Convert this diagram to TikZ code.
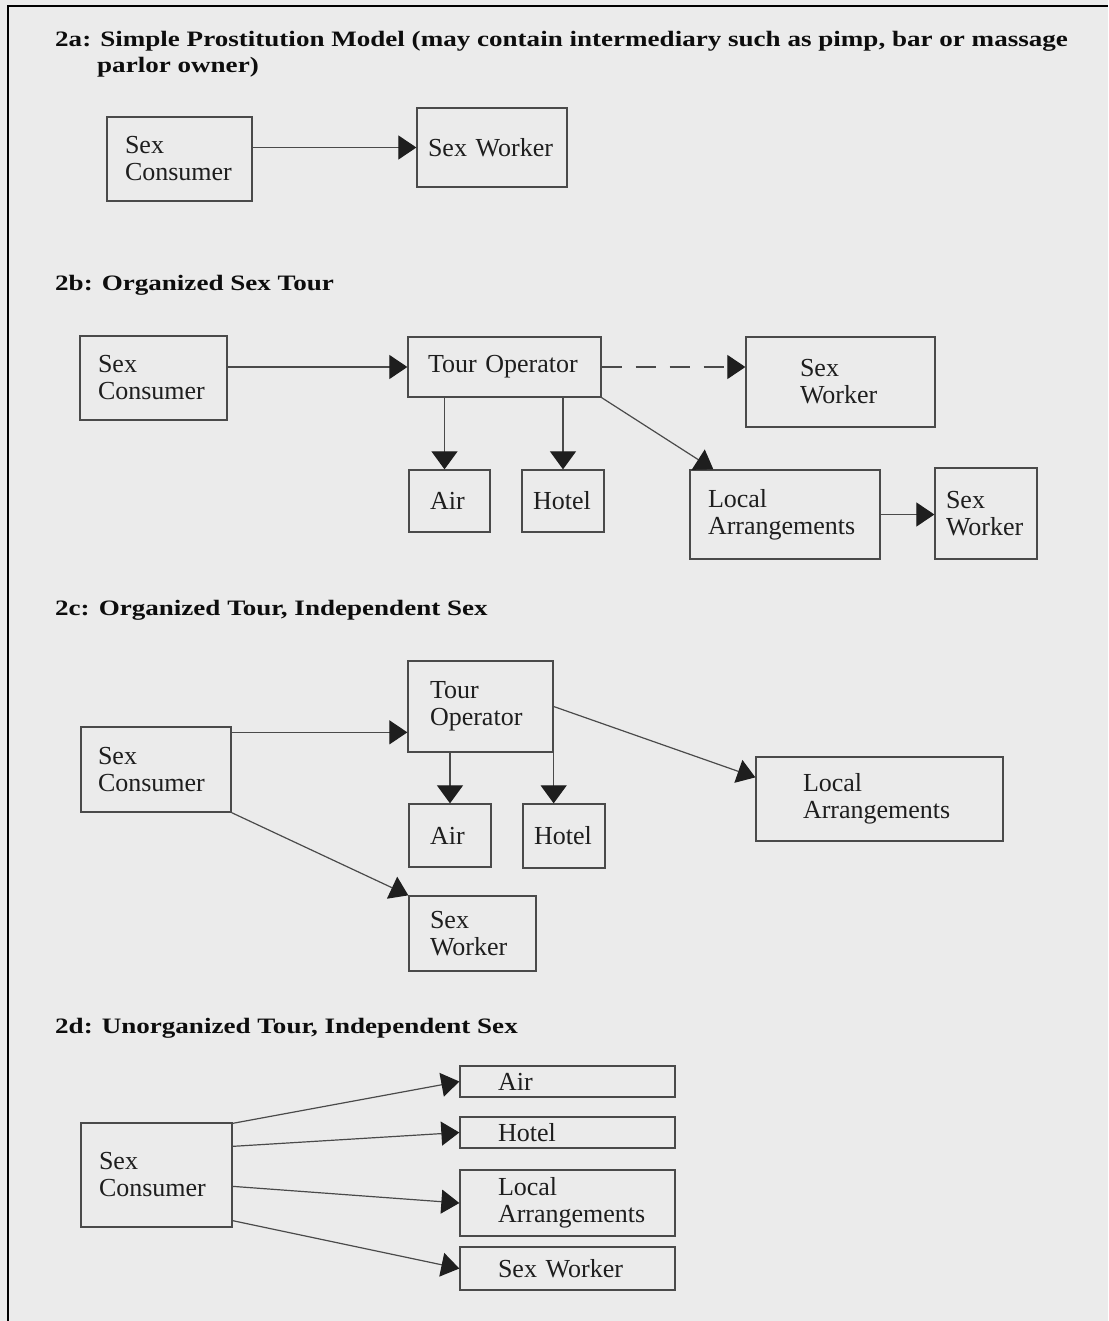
\documentclass[tikz,border=0pt]{standalone}
\usepackage{fontspec}
\setmainfont{Liberation Serif}
\newfontfamily\titlefont[FakeStretch=1.23]{Liberation Serif}
\usetikzlibrary{arrows.meta}
\definecolor{bg}{HTML}{EBEBEB}
\definecolor{ink}{HTML}{1E1E1E}
\definecolor{rule}{HTML}{4A4A4A}
\begin{document}
\begin{tikzpicture}[x=1pt,y=-1pt,
  box/.style n args={4}{draw=rule, line width=1.3pt, inner ysep=0pt, align=left,
     text=ink, font=\fontsize{26pt}{27pt}\selectfont,
     minimum width=#1pt, minimum height=#2pt, inner xsep=#3pt, text width=#4pt},
  ttl/.style={inner sep=0pt, anchor=base west, text=black!95,
     font=\titlefont\bfseries\fontsize{22pt}{26pt}\selectfont},
  arr/.style={draw=rule, line width=1.2pt, -{Triangle[length=18pt,width=24pt,color=ink]}},
  arrv/.style={draw=rule, line width=1.2pt, -{Triangle[length=18pt,width=26pt,color=ink]}},
  dsh/.style={dash pattern=on 20pt off 14pt}]
\fill[bg] (0,0) rectangle (1108,1321);
\useasboundingbox (0,0) rectangle (1108,1321);
\draw[line width=2.2pt, black] (8,1321) -- (8,6) -- (1108,6);

% ---------- 2a
\node[ttl] (T2a) at (55,47) {2a: Simple Prostitution Model (may contain intermediary such as pimp, bar or massage};
\node[ttl] (T2a2) at (97,73) {parlor owner)};
\node[box={145}{84}{18}{109}] (A1) at (179.5,159) {Sex\\Consumer};
\node[box={150}{79}{11}{128}] (A2) at (492,147.5) {Sex Worker};
\draw[arr] (A1.east |- A2.west) -- (A2.west);

% ---------- 2b
\node[ttl] (T2b) at (55,290.5) {2b: Organized Sex Tour};
\node[box={147}{84}{18}{111}] (B1) at (153.5,378) {Sex\\Consumer};
\node[box={193}{60}{20}{153}] (B2) at (504.5,367) {Tour Operator};
\node[box={189}{90}{54}{81}] (B3) at (840.5,382) {Sex\\Worker};
\node[box={81}{62}{21}{39}] (B4) at (449.5,501) {Air};
\node[box={82}{62}{11}{60}] (B5) at (563,501) {Hotel};
\node[box={190}{89}{18}{154}] (B6) at (785,514.5) {Local\\Arrangements};
\node[box={102}{91}{11}{80}] (B7) at (986,513.5) {Sex\\Worker};
\coordinate (b4t) at ([xshift=-5pt]B4.north);
\coordinate (b6t) at ([xshift=24pt]B6.north west);
\draw[arr] (B1.east |- B2.west) -- (B2.west);
\draw[arr, dsh] (B2.east) -- (B2.east -| B3.west);
\draw[arrv] (B2.south -| b4t) -- (b4t);
\draw[arrv] (B2.south -| B5.north) -- (B5.north);
\draw[arr] (B2.south east) -- (b6t);
\draw[arr] (B6.east) -- (B6.east -| B7.west);

% ---------- 2c
\node[ttl] (T2c) at (55,615) {2c: Organized Tour, Independent Sex};
\node[box={145}{91}{22}{101}] (C1) at (480.5,706.5) {Tour\\Operator};
\node[box={150}{85}{17}{116}] (C2) at (156,769.5) {Sex\\Consumer};
\node[box={82}{63}{21}{40}] (C3) at (450,835.5) {Air};
\node[box={82}{64}{11}{60}] (C4) at (564,836) {Hotel};
\node[box={247}{84}{47}{153}] (C5) at (879.5,799) {Local\\Arrangements};
\node[box={127}{75}{21}{85}] (C6) at (472.5,933.5) {Sex\\Worker};
\coordinate (c2a) at ([yshift=-6pt]C2.north east);
\coordinate (c5t) at ([yshift=-21pt]C5.north west);
\draw[arr] (c2a) -- (c2a -| C1.west);
\draw[arrv] (C1.south -| C3.north) -- (C3.north);
\draw[arrv] (C1.south east) -- (C1.south east |- C4.north);
\draw[arr] (C1.east) -- (c5t);
\draw[arr] (C2.south east) -- (C6.north west);

% ---------- 2d
\node[ttl] (T2d) at (55,1033) {2d: Unorganized Tour, Independent Sex};
\node[box={151}{104}{18}{115}] (D1) at (156.5,1175) {Sex\\Consumer};
\node[box={215}{31}{38}{139}] (D2) at (567.5,1081.5) {Air};
\node[box={215}{31}{38}{139}] (D3) at (567.5,1132.5) {Hotel};
\node[box={215}{66}{38}{139}] (D4) at (567.5,1203) {Local\\Arrangements};
\node[box={215}{43}{38}{139}] (D5) at (567.5,1268.5) {Sex Worker};
\draw[arr] ([yshift=-1pt]D1.north east) -- (D2.west);
\draw[arr] ([yshift=-24pt]D1.north east) -- (D3.west);
\draw[arr] ([yshift=-64pt]D1.north east) -- (D4.west);
\draw[arr] ([yshift=7pt]D1.south east) -- (D5.west);
\end{tikzpicture}
\end{document}
